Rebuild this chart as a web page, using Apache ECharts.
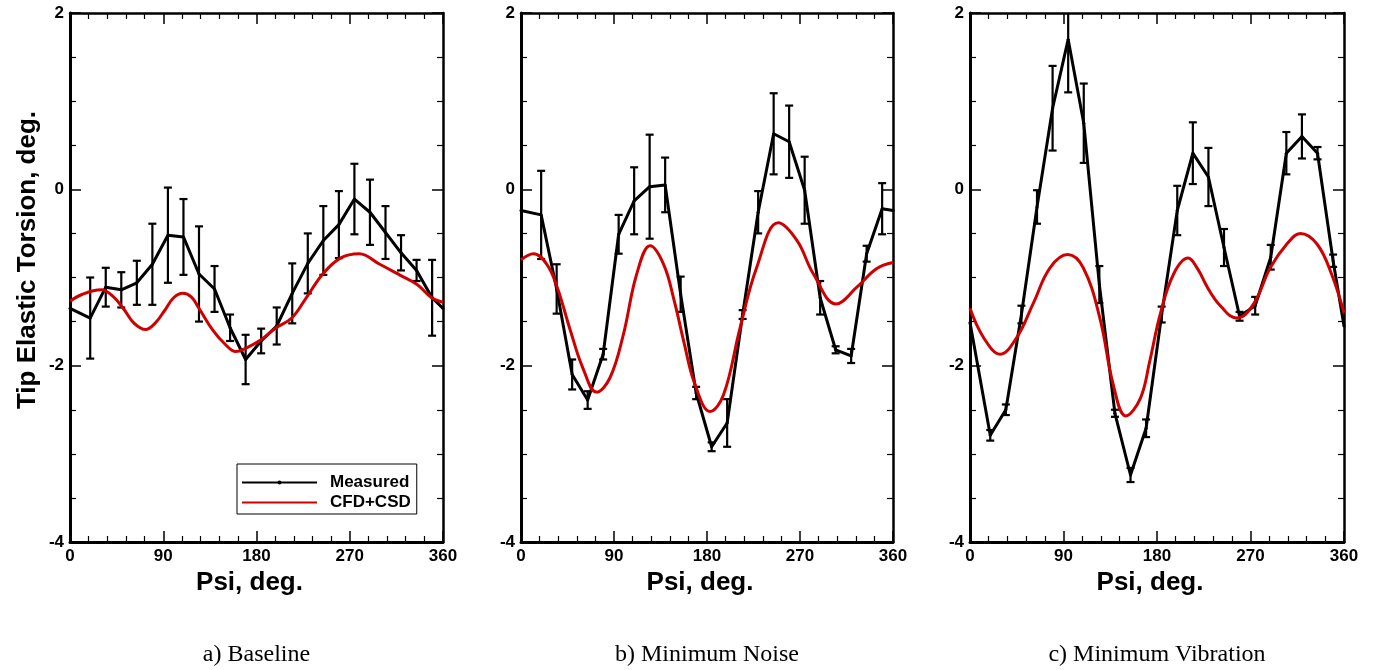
<!DOCTYPE html>
<html>
<head>
<meta charset="utf-8">
<script src="https://cdn.jsdelivr.net/npm/echarts@6/dist/echarts.min.js"></script>
<style>
html,body{margin:0;padding:0;background:#fff;}
#c{width:1376px;height:670px;}
</style>
</head>
<body>
<div id="c"></div>
<script>
// ---------- data ----------
const xTicks = [0, 90, 180, 270, 360];
const yTicks = [-4, -2, 0, 2];
const panelCaptions = ['a) Baseline', 'b) Minimum Noise', 'c) Minimum Vibration'];
const seriesNames = ['Measured', 'CFD+CSD'];
const xTitle = 'Psi, deg.';
const yTitle = 'Tip Elastic Torsion, deg.';

// measured azimuths (deg)
const psiMeas = [0, 19.5, 34.5, 49.5, 64.5, 79.5, 94.5, 109.5, 124.5, 139.5, 154.5, 169.5,
  184.5, 199.5, 214.5, 229.5, 244.5, 259.5, 274.5, 289.5, 304.5, 319.5, 334.5, 349.5, 360];

// a) Baseline
const measA = [-1.35, -1.46, -1.11, -1.14, -1.06, -0.85, -0.52, -0.54, -0.96, -1.13, -1.57, -1.93,
  -1.72, -1.55, -1.18, -0.84, -0.58, -0.40, -0.11, -0.26, -0.49, -0.72, -0.92, -1.23, -1.35];
const errA = [null, 0.46, 0.22, 0.20, 0.25, 0.46, 0.54, 0.43, 0.54, 0.26, 0.15, 0.28,
  0.14, 0.21, 0.34, 0.34, 0.39, 0.38, 0.40, 0.37, 0.30, 0.20, 0.12, 0.43, null];
const cfdPsiA = [0, 12, 30, 42, 52, 62, 73, 82, 91, 100, 109, 117, 124, 138, 150, 160, 170, 184,
  199, 214, 228, 244, 261, 279, 299, 318, 335, 349, 360];
const cfdA = [-1.27, -1.19, -1.14, -1.22, -1.36, -1.52, -1.59, -1.52, -1.38, -1.23, -1.18, -1.22,
  -1.34, -1.60, -1.76, -1.84, -1.80, -1.71, -1.57, -1.46, -1.23, -0.96, -0.78, -0.73, -0.85,
  -0.97, -1.08, -1.23, -1.28];

// b) Minimum Noise
const measB = [-0.24, -0.29, -1.13, -2.10, -2.39, -1.87, -0.51, -0.13, 0.03, 0.05, -1.19, -2.31,
  -2.92, -2.65, -1.42, -0.26, 0.63, 0.54, -0.01, -1.23, -1.82, -1.89, -0.73, -0.22, -0.24];
const errB = [null, 0.50, 0.28, 0.17, 0.10, 0.06, 0.22, 0.38, 0.59, 0.31, 0.20, 0.07,
  0.05, 0.27, 0.05, 0.24, 0.46, 0.41, 0.38, 0.19, 0.04, 0.08, 0.09, 0.29, null];
const cfdPsiB = [0, 12, 25, 35, 48, 60, 73, 86, 99, 112, 125, 138, 148, 158, 168, 183, 196, 212,
  228, 249, 267, 283, 305, 325, 344, 360];
const cfdB = [-0.80, -0.73, -0.85, -1.11, -1.61, -2.03, -2.30, -2.14, -1.65, -0.96, -0.64, -0.85,
  -1.25, -1.75, -2.20, -2.52, -2.33, -1.57, -0.89, -0.38, -0.58, -0.96, -1.30, -1.11, -0.90, -0.83];

// c) Minimum Vibration
const measC = [-1.51, -2.79, -2.50, -1.42, -0.20, 0.92, 1.70, 0.75, -1.08, -2.54, -3.24, -2.71,
  -1.42, -0.24, 0.41, 0.14, -0.66, -1.44, -1.32, -0.77, 0.41, 0.60, 0.41, -0.81, -1.55];
const errC = [null, 0.06, 0.06, 0.10, 0.19, 0.48, 0.60, 0.45, 0.21, 0.04, 0.08, 0.10,
  0.09, 0.28, 0.35, 0.33, 0.21, 0.05, 0.10, 0.14, 0.24, 0.25, 0.07, 0.07, null];
const cfdPsiC = [0, 13, 29, 45, 61, 77, 94, 109, 125, 138, 150, 164, 173, 183, 196, 210, 219, 228,
  236, 244, 250, 257, 273, 289, 305, 318, 334, 348, 360];
const cfdC = [-1.35, -1.68, -1.87, -1.68, -1.29, -0.89, -0.74, -0.89, -1.46, -2.22, -2.57, -2.37,
  -1.95, -1.42, -0.96, -0.78, -0.90, -1.10, -1.25, -1.36, -1.43, -1.46, -1.30, -0.89, -0.62,
  -0.50, -0.62, -0.96, -1.40];

// ---------- layout ----------
const grids = [
  {left: 70, top: 13, width: 373, height: 529},
  {left: 521, top: 13, width: 372, height: 529},
  {left: 970, top: 13, width: 374, height: 529}
];
const panels = [
  {meas: measA, err: errA, cfdPsi: cfdPsiA, cfd: cfdA},
  {meas: measB, err: errB, cfdPsi: cfdPsiB, cfd: cfdB},
  {meas: measC, err: errC, cfdPsi: cfdPsiC, cfd: cfdC}
];

const FONT = '"Liberation Sans", Arial, sans-serif';
const RED = '#d00000';

function zip(xs, ys) { return xs.map((x, i) => [x, ys[i]]); }

function errRender(params, api) {
  const x = api.value(0), y = api.value(1), e = api.value(2);
  const top = api.coord([x, y + e]);
  const bot = api.coord([x, y - e]);
  const hw = 4;
  const st = {stroke: '#000', lineWidth: 2.2};
  return {
    type: 'group',
    children: [
      {type: 'line', shape: {x1: top[0], y1: top[1], x2: bot[0], y2: bot[1]}, style: st},
      {type: 'line', shape: {x1: top[0] - hw, y1: top[1], x2: top[0] + hw, y2: top[1]}, style: st},
      {type: 'line', shape: {x1: bot[0] - hw, y1: bot[1], x2: bot[0] + hw, y2: bot[1]}, style: st}
    ]
  };
}

const xAxes = [], yAxes = [], series = [];
grids.forEach((g, i) => {
  const common = {
    gridIndex: i, type: 'value',
    splitLine: {show: false}
  };
  xAxes.push(Object.assign({}, common, {
    position: 'bottom',
    min: xTicks[0], max: xTicks[xTicks.length - 1], interval: xTicks[1] - xTicks[0],
    axisLine: {show: true, onZero: false, lineStyle: {color: '#000', width: 3}},
    axisTick: {show: true, inside: true, length: 11, lineStyle: {color: '#000', width: 1.5}},
    minorTick: {show: true, splitNumber: 5, length: 6, lineStyle: {color: '#000', width: 1.2}},
    axisLabel: {show: true, margin: 6, color: '#000', fontFamily: FONT, fontWeight: 'bold', fontSize: 17},
    name: xTitle, nameLocation: 'middle', nameGap: 28,
    nameTextStyle: {color: '#000', fontFamily: FONT, fontWeight: 'bold', fontSize: 26, padding: [0, 14, 0, 0]}
  }));
  xAxes.push(Object.assign({}, common, {
    position: 'top',
    min: xTicks[0], max: xTicks[xTicks.length - 1], interval: xTicks[1] - xTicks[0],
    axisLine: {show: true, onZero: false, lineStyle: {color: '#000', width: 2.5}},
    axisTick: {show: true, inside: true, length: 11, lineStyle: {color: '#000', width: 1.5}},
    minorTick: {show: true, splitNumber: 5, length: 6, lineStyle: {color: '#000', width: 1.2}},
    axisLabel: {show: false}
  }));
  yAxes.push(Object.assign({}, common, {
    position: 'left',
    min: yTicks[0], max: yTicks[yTicks.length - 1], interval: yTicks[1] - yTicks[0],
    axisLine: {show: true, onZero: false, lineStyle: {color: '#000', width: 3}},
    axisTick: {show: true, inside: true, length: 11, lineStyle: {color: '#000', width: 1.5}},
    minorTick: {show: true, splitNumber: 4, length: 6, lineStyle: {color: '#000', width: 1.2}},
    axisLabel: {show: true, margin: 6, color: '#000', fontFamily: FONT, fontWeight: 'bold', fontSize: 17}
  }));
  yAxes.push(Object.assign({}, common, {
    position: 'right',
    min: yTicks[0], max: yTicks[yTicks.length - 1], interval: yTicks[1] - yTicks[0],
    axisLine: {show: true, onZero: false, lineStyle: {color: '#000', width: 2.5}},
    axisTick: {show: true, inside: true, length: 11, lineStyle: {color: '#000', width: 1.5}},
    minorTick: {show: true, splitNumber: 4, length: 6, lineStyle: {color: '#000', width: 1.2}},
    axisLabel: {show: false}
  }));

  const p = panels[i];
  const errData = [];
  psiMeas.forEach((x, k) => { if (p.err[k] != null) errData.push([x, p.meas[k], p.err[k]]); });

  series.push({
    type: 'custom', name: seriesNames[0] + ' error', xAxisIndex: 2 * i, yAxisIndex: 2 * i,
    renderItem: errRender, data: errData, clip: true, silent: true, z: 3
  });
  series.push({
    type: 'line', name: seriesNames[0], xAxisIndex: 2 * i, yAxisIndex: 2 * i,
    data: zip(psiMeas, p.meas), symbol: 'circle', symbolSize: 3, showSymbol: true,
    lineStyle: {color: '#000', width: 3}, itemStyle: {color: '#000'},
    clip: true, silent: true, z: 4
  });
  series.push({
    type: 'line', name: seriesNames[1], xAxisIndex: 2 * i, yAxisIndex: 2 * i,
    data: zip(p.cfdPsi, p.cfd), smooth: 0.4, symbol: 'none', showSymbol: false,
    lineStyle: {color: RED, width: 3}, itemStyle: {color: RED},
    clip: true, silent: true, z: 5
  });
});

const graphics = panelCaptions.map((t, i) => ({
  type: 'text',
  x: grids[i].left + grids[i].width / 2,
  y: 655,
  style: {
    text: t, fill: '#000', font: '24px "Liberation Serif", "Times New Roman", serif',
    textAlign: 'center', textVerticalAlign: 'middle'
  }
}));
graphics.push({
  type: 'text',
  x: 28, y: 260,
  rotation: Math.PI / 2,
  style: {
    text: yTitle, fill: '#000', font: 'bold 26px "Liberation Sans", Arial, sans-serif',
    textAlign: 'center', textVerticalAlign: 'middle'
  }
});

const chart = echarts.init(document.getElementById('c'), null, {renderer: 'canvas'});
chart.setOption({
  animation: false,
  backgroundColor: '#fff',
  grid: grids,
  xAxis: xAxes,
  yAxis: yAxes,
  legend: {
    data: [
      {name: seriesNames[0]},
      {name: seriesNames[1], itemStyle: {opacity: 0}}
    ],
    orient: 'vertical',
    left: 237, top: 464,
    padding: [10, 6, 3, 4],
    itemGap: 3,
    itemWidth: 75, itemHeight: 5,
    borderColor: '#000', borderWidth: 1,
    backgroundColor: '#fff',
    selectedMode: false,
    textStyle: {color: '#000', fontFamily: FONT, fontWeight: 'bold', fontSize: 17, padding: [0, 0, 0, 8]}
  },
  series: series,
  graphic: graphics
});
</script>
</body>
</html>
